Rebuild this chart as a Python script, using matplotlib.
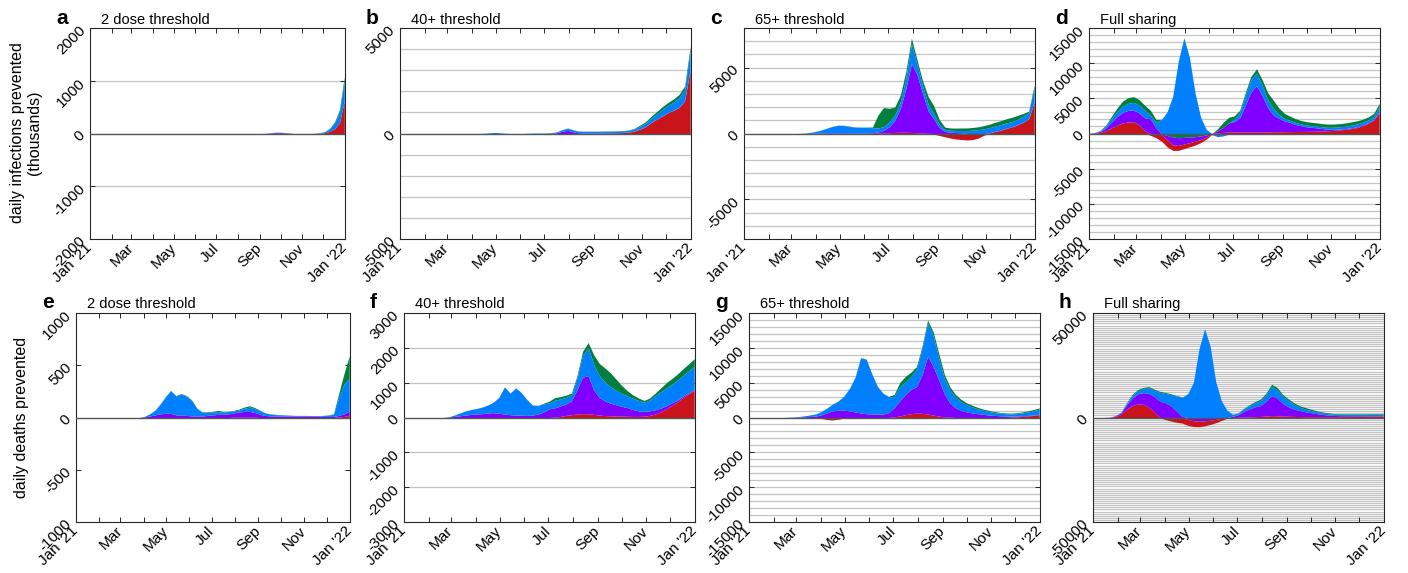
import numpy as np
import matplotlib
matplotlib.use('Agg')
import matplotlib.pyplot as plt

plt.rcParams['font.family'] = ['Liberation Sans', 'DejaVu Sans']
plt.rcParams['axes.unicode_minus'] = False

# weekly samples, Jan 1 2021 .. Dec 31 2021
weeks = np.arange(np.datetime64('2021-01-01'), np.datetime64('2022-01-01'), np.timedelta64(7, 'D'))

# ---- infections prevented (thousands) ----
a_red = [0, 0, 0, 0, 0, 0, 0, 0, 0, 0,
         -10, -10, -10, -10, -10, -10, -10, -10, -10, -10,
         -10, -10, -10, -10, -10, 0, 0, 0, 0, 0,
         0, 0, 0, 0, 0, 0, 0, 0, 0, 0,
         0, 0, 0, 0, 0, 0, 2, 5, 15, 40,
         90, 200, 620]
a_purple = [0] * 37 + [10, 15, 15, 10, 5] + [0] * 11
a_blue = [0] * 36 + [5, 5, 10, 10, 5] + [0] * 5 + [3, 8, 20, 50, 110, 210, 380]
a_green = [0] * 47 + [2, 5, 10, 20, 40, 80]

b_red = [0, 0, 0, 0, 0, -10, -20, -20, -20, -20,
         -20, -20, -20, -20, -20, -20, -20, -20, -20, -20,
         -20, -20, -20, -20, -20, -10, 0, 0, 0, 0,
         0, 0, 0, 0, 10, 10, 15, 20, 25, 30,
         40, 60, 110, 210, 320, 520, 680, 830, 980, 1100,
         1230, 1550, 3050]
b_purple = [0] * 27 + [10, 30, 100, 150, 80, 30, 20] + [10] * 19
b_blue = ([0] * 15 + [10, 30, 50, 30, 10] + [0, 0, 0, 10, 20, 20, 20, 30, 40, 80]
          + [100, 90] + [80] * 10 + [100, 130, 160, 200, 240, 300, 340, 380, 450, 520, 900])
b_green = [0] * 30 + [10] * 11 + [20, 30, 50, 70, 90, 110, 130, 140, 150, 160, 170, 180]

c_red = [0, 0, 0, 0, 0, 0, 0, 0, -20, -30,
         -40, -50, -50, -40, -30, -20, -10, 0, 0, 0,
         0, 0, 10, 10, 20, 40, 60, 80, 90, 90,
         80, 60, 40, 10, -50, -150, -250, -350, -420, -460,
         -450, -420, -300, -100, 50, 150, 250, 380, 500, 650,
         850, 1100, 2400]
c_purple = [0] * 12 + [10, 20, 30, 40, 50, 50, 50, 50,
                       40, 40, 40, 50, 100, 200, 450, 900, 1800, 3300,
                       5250, 4400, 3000, 1700, 1100, 450, 150, 100, 70, 50,
                       -40, -40, -40, -30, 20, 20, 20, 20, 20, 20,
                       20, 20, 30]
c_blue = [0] * 10 + [10, 30, 80, 150, 250, 380, 500, 570, 550, 480,
                     440, 430, 420, 380, 300, 280, 350, 400, 500, 800,
                     1500, 780, 560, 500, 400, 250, 150, 150, 160, 180,
                     220, 260, 300, 350, 380, 400, 400, 400, 380, 400,
                     450, 450, 1150]
c_green = [0] * 12 + [5, 10, 10, 15, 20, 20, 20, 20,
                      20, 20, 20, 50, 980, 1450, 1050, 620, 510, 510,
                      400, 360, 400, 590, 600, 350, 180, 170, 180, 190,
                      200, 200, 210, 250, 260, 280, 300, 320, 330, 300,
                      200, 130, 120]

d_red = [0, 50, 150, 400, 800, 1200, 1500, 1650, 1670, 1200,
         400, -250, -600, -1000, -1000, -800, -700, -650, -600, -550,
         -450, -300, -50, 100, 150, 200, 200, 200, 200, 200,
         200, 200, 230, 250, 250, 260, 270, 280, 290, 300,
         320, 340, 370, 400, 450, 520, 600, 700, 850, 1100,
         1450, 1900, 3000]
d_purple = [0, 50, 150, 400, 800, 1200, 1500, 1650, 1660, 1700,
            1800, 2100, 800, -100, -600, -1100, -1100, -950, -800, -650,
            -500, -300, -50, 300, 700, 1300, 1500, 2000, 3800, 5700,
            6600, 5200, 3500, 2400, 1900, 1550, 1300, 1000, 800, 650,
            550, 450, 300, 200, 150, 120, 100, 100, 100, 100,
            100, 100, 100]
d_blue = [0, 30, 100, 250, 500, 700, 900, 1000, 1100, 1100,
          1100, 500, 800, 2000, 3100, 5300, 10300, 13600, 10800, 5800,
          2300, 600, -50, -450, -350, -100, 300, 800, 1400, 1700,
          1800, 1500, 1100, 900, 600, 330, 300, 280, 260, 250,
          250, 250, 250, 280, 300, 320, 350, 380, 400, 400,
          400, 450, 700]
d_green = [0, 20, 50, 150, 300, 500, 700, 800, 810, 800,
           700, 700, 400, 0, -300, -500, -600, -550, -500, -450,
           -350, -200, 0, 250, 700, 800, 500, 300, 400, 500,
           600, 800, 1000, 1200, 900, 720, 600, 550, 500, 480,
           460, 450, 460, 460, 450, 450, 450, 470, 450, 420,
           400, 400, 480]

# ---- deaths prevented ----
e_red = [0] * 30 + [3, 3, 3, 3, 3] + [0] * 15 + [5, 10, 20]
e_purple = [0] * 13 + [5, 15, 25, 35, 40, 40, 25,
                       25, 20, 15, 15, 15, 20, 25, 30, 30, 35,
                       40, 50, 55, 55, 45, 30, 20, 15, 15, 15,
                       15, 15, 15, 15, 15, 15, 15, 10, 10, 10,
                       15, 25, 40]
e_blue = [0] * 13 + [5, 20, 43, 92, 155, 215, 180,
                     200, 185, 150, 72, 37, 30, 27, 26, 22, 22,
                     20, 19, 30, 42, 37, 35, 22, 17, 12, 10,
                     8, 5, 3, 3, 3, 1, 1, 8, 12, 20,
                     170, 285, 310]
e_green = [0] * 15 + [2, 3, 5, 5, 5,
                      5, 5, 5, 3, 3, 5, 8, 12, 8, 5,
                      5, 8, 12, 12, 10, 5, 3, 3, 3, 3,
                      2, 2, 2, 2, 2, 2, 2, 2, 3, 5,
                      40, 100, 220]

f_red = [0] * 27 + [10, 30, 60,
                    80, 100, 110, 105, 90, 70, 55, 50, 45, 40,
                    35, 30, 30, 35, 60, 100, 160, 250, 350, 450,
                    580, 680, 780]
f_purple = [0] * 8 + [10, 30,
                      50, 70, 90, 100, 110, 130, 140, 120, 100, 80,
                      70, 65, 60, 70, 100, 160, 250, 270, 300, 330,
                      400, 700, 1050, 1100, 700, 500, 420, 360, 320, 280,
                      250, 200, 160, 140, 130, 120, 110, 90, 70, 50,
                      40, 30, 25]
f_blue = [0] * 8 + [10, 40,
                    80, 120, 140, 160, 190, 230, 300, 460, 780, 620,
                    780, 655, 460, 290, 250, 230, 170, 220, 200, 190,
                    170, 340, 620, 795, 730, 630, 545, 470, 415, 370,
                    335, 320, 300, 265, 310, 400, 470, 510, 535, 575,
                    590, 625, 665]
f_green = [0] * 25 + [20, 50, 70, 70, 60,
                      50, 60, 120, 150, 280, 350, 400, 400, 320, 230,
                      150, 100, 70, 50, 60, 80, 110, 150, 165, 175,
                      190, 205, 220]

g_red = [0] * 13 + [-150, -300, -350, -250, -100, 0, 0,
                    0, 0, 0, 0, 0, 0, 100, 200, 400, 550,
                    620, 600, 500, 350, 200, 100, 50, 0, 0, 0,
                    -50, -80, -100, -100, -80, -40, 0, 50, 100, 150,
                    220, 300, 430]
g_purple = [0] * 8 + [30, 60,
                      100, 150, 200, 400, 700, 950, 1050, 1050, 950, 800,
                      650, 550, 500, 480, 500, 700, 1300, 2200, 2900, 3500,
                      3800, 5500, 8300, 7000, 5200, 3300, 2000, 1400, 1000, 800,
                      650, 550, 450, 350, 300, 250, 200, 150, 120, 100,
                      80, 60, 50]
g_blue = [0] * 7 + [30, 50, 90,
                    150, 230, 320, 470, 670, 970, 1320, 2020, 3220, 4970,
                    7920, 7820, 5770, 3990, 2970, 2300, 1600, 2000, 1800, 1850,
                    2480, 3750, 4800, 4400, 3100, 2200, 1870, 1500, 1270, 1020,
                    860, 690, 570, 500, 420, 360, 350, 330, 350, 420,
                    500, 620, 710]
g_green = [0] * 13 + [30, 30, 30, 30, 30, 30, 30,
                      30, 30, 30, 30, 30, 50, 300, 600, 800, 600,
                      400, 350, 400, 550, 700, 600, 480, 400, 330, 280,
                      240, 210, 180, 150, 130, 110, 100, 100, 110, 130,
                      150, 170, 190]

h_red = [0, 0, 0, 100, 500, 1500, 4000, 5700, 6500, 6300,
         5000, 2500, -200, -1000, -1700, -2300, -2700, -2800, -2800, -2700,
         -2400, -2000, -1600, -1000, -400, -50, 100, 200, 300, 400,
         500, 700, 900, 850, 700, 600, 500, 450, 400, 400,
         400, 400, 400, 400, 400, 420, 450, 470, 500, 520,
         550, 600, 640]
h_purple = [0, 0, 0, 50, 300, 700, 2000, 3500, 4800, 5600,
            6500, 7500, 7800, 7000, 5500, 3000, 500, -1000, -1500, -1750,
            -1600, -1300, -900, -400, 0, 600, 1200, 2700, 3800, 4700,
            5200, 7000, 9600, 8500, 6000, 4500, 3500, 2900, 2400, 1900,
            1500, 1100, 800, 600, 500, 450, 400, 380, 350, 320,
            300, 280, 250]
h_blue = [0, 0, 0, 50, 100, 300, 700, 1200, 1600, 2000,
          2800, 3000, 4200, 4500, 5400, 7200, 9100, 11400, 17000, 33000,
          42500, 34000, 17000, 8000, 3500, 900, 700, 1200, 1600, 2000,
          2400, 3200, 4400, 4000, 3400, 3000, 2300, 1600, 1300, 1100,
          900, 800, 700, 650, 600, 600, 600, 600, 600, 600,
          600, 600, 550]
h_green = [0, 0, 0, 0, 0, 0, 300, 600, 500, 500,
           500, 500, 500, 500, 400, 300, 200, 100, 0, 0,
           0, 0, 0, 0, 0, 100, 200, 300, 400, 500,
           700, 800, 1000, 1000, 900, 800, 700, 700, 700, 600,
           500, 400, 350, 300, 300, 300, 300, 300, 300, 320,
           320, 320, 320]

colors = ['#c8141a', '#8000ff', '#0080ff', '#007f3f']

panels = [
    ('a', '2 dose threshold', [a_red, a_purple, a_blue, a_green], 2000, [-2000, -1000, 0, 1000, 2000]),
    ('b', '40+ threshold', [b_red, b_purple, b_blue, b_green], 5000, [-5000, 0, 5000]),
    ('c', '65+ threshold', [c_red, c_purple, c_blue, c_green], 8000, [-5000, 0, 5000]),
    ('d', 'Full sharing', [d_red, d_purple, d_blue, d_green], 15000, [-15000, -10000, -5000, 0, 5000, 10000, 15000]),
    ('e', '2 dose threshold', [e_red, e_purple, e_blue, e_green], 1000, [-1000, -500, 0, 500, 1000]),
    ('f', '40+ threshold', [f_red, f_purple, f_blue, f_green], 3000, [-3000, -2000, -1000, 0, 1000, 2000, 3000]),
    ('g', '65+ threshold', [g_red, g_purple, g_blue, g_green], 15000, [-15000, -10000, -5000, 0, 5000, 10000, 15000]),
    ('h', 'Full sharing', [h_red, h_purple, h_blue, h_green], 50000, [-50000, 0, 50000]),
]

# axes boxes in pixels: left, top, right, bottom
boxes = [(90, 28, 345, 239), (400, 28, 691, 239), (744, 28, 1035, 239), (1089, 28, 1380, 239),
         (76, 313, 350, 522), (404, 313, 695, 522), (749, 313, 1040, 522), (1093, 313, 1384, 522)]

W, H = 1408, 573
fig = plt.figure(figsize=(W / 100, H / 100), dpi=100)

month_starts = np.arange(np.datetime64('2021-01'), np.datetime64('2022-02'), np.timedelta64(1, 'M')).astype('datetime64[D]')
month_labels = ["Jan '21", '', 'Mar', '', 'May', '', 'Jul', '', 'Sep', '', 'Nov', '', "Jan '22"]
x0, x1 = np.datetime64('2021-01-01'), np.datetime64('2022-01-01')

for (letter, title, layers, lim, yticks), (l, t, r, b) in zip(panels, boxes):
    ax = fig.add_axes([l / W, 1 - b / H, (r - l) / W, (b - t) / H])

    # horizontal grid every 1000
    levels = [v for v in range(-lim + 1000, lim, 1000) if v != 0]
    ax.hlines(levels, x0, x1, colors='#c4c4c4', linewidth=0.9, zorder=0)

    # positives stack upward red->green, negatives stack downward green->red
    pos_base = np.zeros(len(weeks))
    for y, c in zip(layers, colors):
        pos = np.clip(np.array(y, dtype=float), 0, None)
        ax.fill_between(weeks, pos_base, pos_base + pos, color=c, lw=0, zorder=2)
        pos_base = pos_base + pos
    neg_base = np.zeros(len(weeks))
    for y, c in reversed(list(zip(layers, colors))):
        neg = np.clip(np.array(y, dtype=float), None, 0)
        ax.fill_between(weeks, neg_base, neg_base + neg, color=c, lw=0, zorder=2)
        neg_base = neg_base + neg

    ax.axhline(0, color='#555555', lw=1.0, zorder=3)

    ax.set_xlim(x0, x1)
    ax.set_ylim(-lim, lim)
    ax.set_xticks(month_starts)
    ax.set_xticklabels(month_labels)
    ax.set_yticks(yticks)
    ax.set_yticklabels([str(v) for v in yticks])
    ax.tick_params(direction='in', length=3.5, width=0.7, top=True, right=True,
                   labelsize=11, color='#262626', pad=5)
    for lab in ax.get_xticklabels():
        lab.set_rotation(45)
        lab.set_ha('right')
        lab.set_va('center')
        lab.set_rotation_mode('anchor')
    for lab in ax.get_yticklabels():
        lab.set_rotation(45)
        lab.set_ha('right')
        lab.set_va('center')
        lab.set_rotation_mode('anchor')
    for s in ax.spines.values():
        s.set_color('#262626')
        s.set_linewidth(0.8)

    ty = 24 if t < 100 else 308
    fig.text((l - 34) / W, 1 - ty / H, letter, fontsize=15, fontweight='bold', va='baseline')
    fig.text((l + 11) / W, 1 - ty / H, title, fontsize=10.5, va='baseline')

fig.text(26 / W, 1 - 133 / H, 'daily infections prevented\n(thousands)', rotation=90,
         ha='center', va='center', fontsize=11.5, multialignment='center')
fig.text(22 / W, 1 - 417 / H, 'daily deaths prevented', rotation=90,
         ha='center', va='center', fontsize=11.5)

fig.savefig('out.png', dpi=100)
